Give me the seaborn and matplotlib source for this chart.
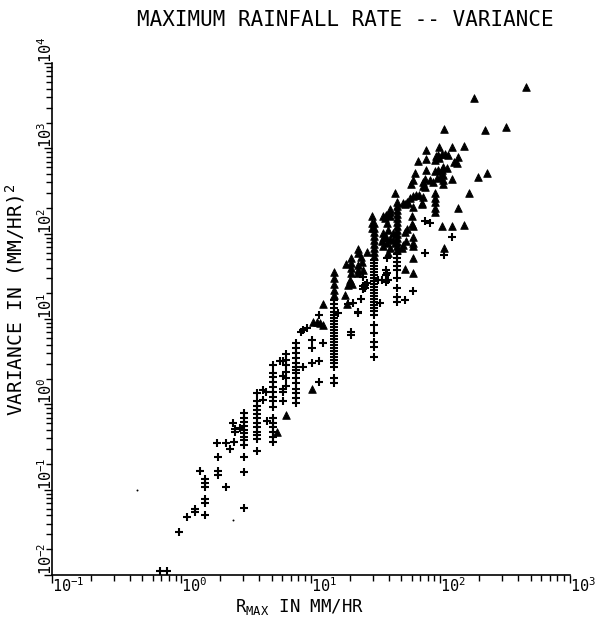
import matplotlib
matplotlib.use("Agg")
import matplotlib.pyplot as plt
import matplotlib.ticker as mticker
import numpy as np
import pandas as pd
import seaborn as sns

# ---------------- data (R_max in mm/hr, variance in (mm/hr)^2) ----------------
cross_rate = [
    0.68, 0.77, 0.96, 1.10, 1.28, 1.28, 1.53, 1.53, 1.53, 1.53, 1.53, 1.53, 1.40,
    1.92, 1.92, 1.92, 1.87, 2.19, 2.19, 2.37, 2.55, 2.48, 2.57, 2.57, 2.83,
    3.05, 3.05, 3.05, 3.05, 3.05, 3.05, 3.05, 3.05, 3.05, 3.05, 3.05, 3.05,
    3.83, 3.83, 3.83, 3.83, 3.83, 3.83, 3.83, 3.83, 3.83, 3.83, 3.83, 3.83,
    4.28, 4.50, 4.28, 4.61,
    5.12, 5.12, 5.12, 5.12, 5.12, 5.12, 5.12, 5.12, 5.12, 5.12, 5.12, 5.12, 5.12, 5.12, 5.12,
    5.76,
    6.08, 6.08, 6.08, 6.08, 6.08,
    6.47, 6.47, 6.47, 6.47, 6.47, 6.47,
    7.62, 7.62, 7.62, 7.62, 7.62, 7.62, 7.62, 7.62, 7.62, 7.62, 7.62, 7.62, 7.62, 7.62,
    8.73, 8.33, 8.73, 9.27,
    10.2, 10.2, 10.2,
    11.5, 11.5, 12.3, 11.5,
    15.1, 15.1, 15.1, 15.1, 15.1, 15.1, 15.1, 15.1, 15.1, 15.1, 15.1, 15.1,
    15.1, 15.1, 15.1, 15.1, 15.1, 15.1, 15.1, 15.1, 15.1, 15.1, 15.1, 15.1,
    16.3,
    19.4, 21.2, 24.3,
    25.4, 26.3, 25.4,
    25.4, 26.1, 26.9,
    22.9, 23.3,
    20.5, 20.5,
    30.8, 30.8, 30.8, 30.8, 30.8, 30.8, 30.8, 30.8, 30.8, 30.8, 30.8, 30.8,
    30.8, 30.8, 30.8, 30.8, 30.8, 30.8, 30.8, 30.8, 30.8, 30.8, 30.8, 30.8,
    34.1, 33.1, 35.2, 37.9, 39.5,
    37.9, 37.9, 38.4, 38.4,
    45.9, 45.9, 45.9, 45.9, 45.9, 45.9, 45.9, 45.9, 45.9,
    53.2, 61.0,
    75.8, 83.7, 75.8,
    122, 107,
]
cross_var = [
    0.011, 0.011, 0.032, 0.048, 0.059, 0.055, 0.050, 0.077, 0.069, 0.133, 0.119, 0.108, 0.167,
    0.167, 0.149, 0.240, 0.356, 0.108, 0.350, 0.300, 0.366, 0.600, 0.515, 0.470, 0.525,
    0.787, 0.70, 0.627, 0.558, 0.501, 0.458, 0.418, 0.383, 0.334, 0.244, 0.162, 0.0615,
    1.35, 1.10, 0.957, 0.859, 0.775, 0.687, 0.610, 0.548, 0.479, 0.438, 0.390, 0.286,
    1.46, 1.38, 1.11, 0.644,
    2.90, 2.35, 2.08, 1.85, 1.59, 1.41, 1.23, 1.08, 0.925, 0.687, 0.610, 0.548, 0.479, 0.418, 0.366,
    3.25,
    3.22, 2.15, 1.50, 1.41, 1.08,
    3.87, 3.27, 2.88, 2.42, 2.02, 1.64,
    5.20, 4.55, 3.97, 3.47, 3.03, 2.77, 2.53, 2.32, 2.02, 1.78, 1.50, 1.35, 1.18, 1.03,
    2.74, 7.11, 7.45, 7.80,
    5.69, 4.55, 3.03,
    11.2, 3.22, 5.20, 1.85,
    16.7, 15.0, 13.5, 12.1, 11.2, 10.3, 9.50, 8.77, 8.07, 7.45, 6.87, 6.34,
    5.85, 5.39, 4.97, 4.58, 4.23, 3.90, 3.60, 3.32, 3.06, 2.77, 2.02, 1.80,
    11.7,
    15.0, 15.3, 17.3,
    31.4, 23.3, 22.3,
    24.1, 25.2, 26.4,
    12.2, 11.7,
    7.11, 6.51,
    49.3, 45.5, 41.9, 38.7, 35.7, 32.9, 30.3, 28.0, 25.8, 23.8, 21.9, 20.2,
    18.7, 17.2, 15.9, 14.6, 13.5, 12.4, 11.2, 8.53, 6.82, 5.43, 4.75, 3.57,
    15.6, 28.7, 28.7, 27.4, 28.7,
    37.6, 32.9, 52.4, 34.4,
    58.0, 52.0, 46.7, 41.9, 37.6, 30.1, 23.0, 18.3, 16.0,
    16.7, 21.3,
    141, 133, 59.0,
    92.0, 56.4,
]

tri_rate = [
    5.46, 6.47, 10.2,
    10.4, 11.1, 11.7, 12.3, 12.3,
    15.1, 15.1, 15.1, 15.1, 15.1,
    18.3, 18.9,
    20.0, 20.6, 19.4,
    20.3, 20.3, 20.3, 20.3,
    18.6,
    22.9, 23.3,
    24.3, 24.6, 26.9,
    22.9, 23.3, 23.3,
    25.4,
    29.5, 29.5, 29.5,
    30.8, 30.8, 30.8, 30.8, 30.8, 30.8, 30.8, 30.8, 30.8,
    36.2, 37.9, 40.7, 38.4, 40.7, 40.7, 39.5, 35.8, 37.9, 36.2, 41.1, 38.7, 36.2, 40.7, 39.5, 35.4, 37.5,
    45.9, 45.9, 45.9, 45.9, 45.9, 45.9, 45.9, 45.9, 45.9, 45.9, 45.9, 45.9, 45.9,
    44.5,
    43.2, 43.2, 44.5,
    50.1, 51.2,
    53.5, 55.0, 54.2, 53.5,
    60.6, 60.6, 61.9,
    61.0, 61.0, 61.0, 61.9, 61.9,
    51.2, 55.0, 56.4, 61.9, 71.6, 57.8,
    457, 182, 107, 222, 319,
    76.9, 97.3, 122, 153,
    67.4, 76.9,
    92.3, 96.2, 102, 108, 115, 90.7, 97.8, 127, 134, 137,
    63.5, 76.9, 90.7, 96.2, 105, 112, 103,
    59.7, 61.0, 72.9, 75.8, 83.0, 88.0, 93.5, 99.1, 105, 105, 105, 122,
    72.9, 75.8,
    196, 229, 167,
    61.0, 64.7, 68.6, 73.6,
    90.7, 90.7, 90.7, 90.7, 90.7,
    136, 71.6, 53.2,
    102, 122, 153,
    107,
]
tri_var = [
    0.479, 0.752, 1.50,
    9.33, 9.33, 8.93, 8.53, 15.1,
    35.9, 30.3, 25.8, 21.9, 19.2,
    19.2, 14.9,
    28.7, 25.8, 25.2,
    51.6, 45.1, 39.4, 34.4,
    43.6,
    65.8, 59.0,
    53.9, 47.1, 61.7,
    43.1, 37.6, 34.4,
    37.6,
    159, 133, 116,
    134, 117, 105, 94.2, 84.6, 75.9, 68.2, 61.2, 54.9,
    159, 166, 159, 135, 193, 177, 111, 101, 92.5, 89.3, 86.7, 77.4, 71.5, 67.6, 59.0, 81.9, 152,
    238, 212, 190, 171, 153, 137, 123, 111, 99.5, 89.3, 80.2, 71.9, 64.6,
    298,
    101, 84.6, 77.4,
    67.6, 73.5,
    105, 113, 82.0, 38.8,
    159, 128, 124,
    78.0, 72.0, 52.3, 92.5, 34.4,
    231, 232, 231, 207, 231, 261,
    5220, 3880, 1700, 1640, 1790,
    950, 1050, 1030, 1070,
    704, 750,
    817, 839, 853, 853, 839, 733, 762, 700, 670, 789,
    520, 555, 535, 560, 612, 586, 560,
    384, 420, 408, 435, 420, 408, 447, 467, 489, 427, 384, 437,
    363, 351,
    463, 512, 298,
    277, 285, 285, 272,
    298, 261, 238, 199, 177,
    198, 224, 224,
    123, 124, 125,
    67.6,
]

dot_rate = [0.453, 2.48]
dot_var = [0.099, 0.0442]

x_ticks = [0.1, 1, 10, 100, 1000]
x_tick_labels = [r"$10^{-1}$", r"$10^{0}$", r"$10^{1}$", r"$10^{2}$", r"$10^{3}$"]
y_ticks = [0.01, 0.1, 1, 10, 100, 1000, 10000]
y_tick_labels = [r"$10^{-2}$", r"$10^{-1}$", r"$10^{0}$", r"$10^{1}$",
                 r"$10^{2}$", r"$10^{3}$", r"$10^{4}$"]

title_text = "MAXIMUM RAINFALL RATE -- VARIANCE"
xlabel_text = r"R$_{\mathrm{MAX}}$ IN MM/HR"
ylabel_text = r"VARIANCE IN (MM/HR)$^{2}$"

# ---------------- styling ----------------
sns.set_theme(style="white")
plt.rcParams["font.family"] = ["DejaVu Sans Mono", "DejaVu Sans"]
plt.rcParams["mathtext.fontset"] = "custom"
plt.rcParams["mathtext.rm"] = "DejaVu Sans Mono"
plt.rcParams["mathtext.it"] = "DejaVu Sans Mono"
plt.rcParams["mathtext.bf"] = "DejaVu Sans Mono"
plt.rcParams["axes.edgecolor"] = "black"
plt.rcParams["xtick.color"] = "black"
plt.rcParams["ytick.color"] = "black"
plt.rcParams["text.color"] = "black"

fig = plt.figure(figsize=(5.96, 6.18), dpi=100)
fig.patch.set_facecolor("white")
ax = fig.add_axes([0.0872, 0.0696, 0.869, 0.8285])
ax.set_facecolor("white")
ax.set_xscale("log")
ax.set_yscale("log")

df_cross = pd.DataFrame({"rate": cross_rate, "var": cross_var})
df_tri = pd.DataFrame({"rate": tri_rate, "var": tri_var})
df_dot = pd.DataFrame({"rate": dot_rate, "var": dot_var})

sns.scatterplot(data=df_cross, x="rate", y="var", marker="+", s=36,
                color="black", linewidth=1.5, ax=ax, legend=False)
sns.scatterplot(data=df_tri, x="rate", y="var", marker="^", s=30,
                color="black", edgecolor="black", linewidth=0.6, ax=ax, legend=False)
sns.scatterplot(data=df_dot, x="rate", y="var", marker="o", s=2,
                color="black", linewidth=0, ax=ax, legend=False)

ax.set_xlim(0.1, 1000)
ax.set_ylim(0.01, 10000)

ax.set_xticks(x_ticks)
ax.set_xticklabels(x_tick_labels)
ax.set_yticks(y_ticks)
ax.set_yticklabels(y_tick_labels)
ax.xaxis.set_minor_locator(mticker.LogLocator(base=10, subs=np.arange(2, 10), numticks=30))
ax.yaxis.set_minor_locator(mticker.LogLocator(base=10, subs=np.arange(2, 10), numticks=30))
ax.xaxis.set_minor_formatter(mticker.NullFormatter())
ax.yaxis.set_minor_formatter(mticker.NullFormatter())

ax.tick_params(axis="both", which="both", bottom=True, left=True, top=False, right=False)
ax.tick_params(axis="x", which="major", direction="out", length=6, width=1.0,
               labelsize=11, pad=-5)
ax.tick_params(axis="y", which="major", direction="out", length=6, width=1.0,
               labelsize=11, pad=-8)
ax.tick_params(axis="both", which="minor", direction="out", length=4, width=1.0)
plt.setp(ax.get_xticklabels(), ha="left")
plt.setp(ax.get_yticklabels(), rotation=90, va="bottom", ha="right")

for side in ["top", "right"]:
    ax.spines[side].set_visible(False)
for side in ["left", "bottom"]:
    ax.spines[side].set_linewidth(1.2)
    ax.spines[side].set_color("black")

ax.set_xlabel("")
ax.set_ylabel("")
ax.grid(False)

fig.text(0.579, 0.967, title_text, ha="center", va="center", fontsize=15)
fig.text(0.502, 0.018, xlabel_text, ha="center", va="center", fontsize=12.5)
fig.text(0.026, 0.515, ylabel_text, ha="center", va="center", rotation=90, fontsize=14)

fig.savefig("out.png", dpi=100, facecolor="white")
